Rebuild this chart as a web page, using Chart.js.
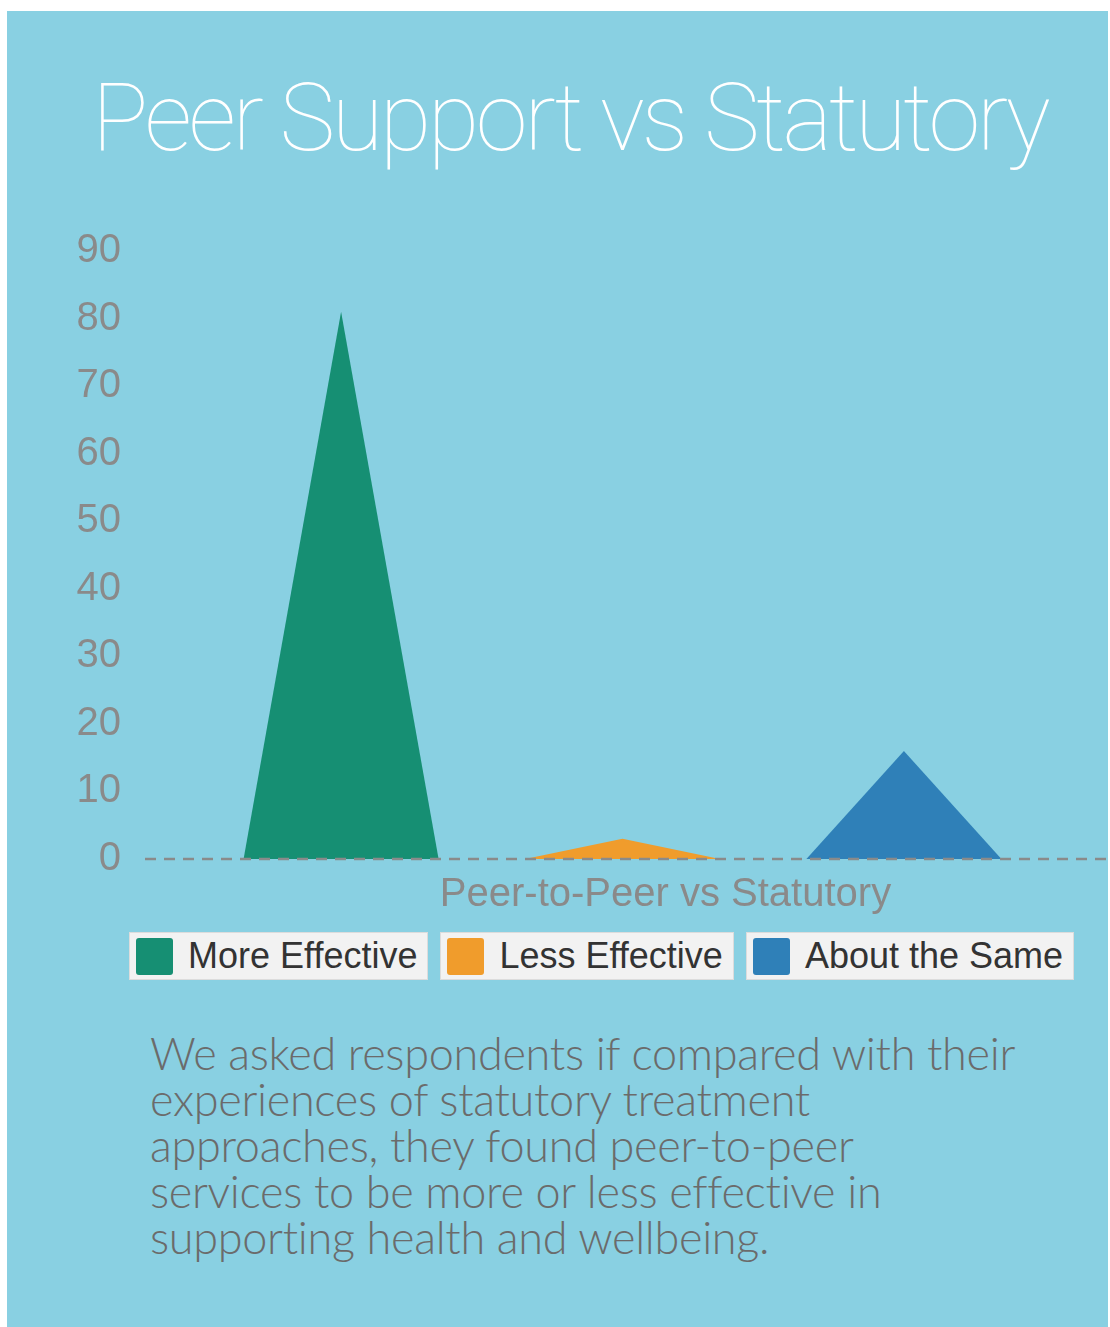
<!DOCTYPE html>
<html>
<head>
<meta charset="utf-8">
<title>Peer Support vs Statutory</title>
<script src="https://cdn.jsdelivr.net/npm/chart.js@4.4.1/dist/chart.umd.min.js"></script>
<style>
  html, body { margin: 0; padding: 0; background: #fff; }
  body { width: 1110px; height: 1327px; position: relative; overflow: hidden; }
  .panel {
    position: absolute; left: 7px; top: 11px; width: 1101px; height: 1316px;
    background: #89d0e2;
  }
  .title {
    position: absolute; left: 92px; top: 71px;
    font-family: Roboto, sans-serif; font-weight: 100; font-size: 94px; line-height: 94px;
    letter-spacing: -3.4px; color: #fff; white-space: nowrap;
  }
  .chart-box { position: absolute; left: 7px; top: 202px; width: 1101px; height: 730px; }
  .legend { position: absolute; left: 129px; top: 932px; display: flex; gap: 12px; }
  .legend-item {
    display: flex; align-items: center; height: 46px; padding: 0 10px 0 6px;
    background: #f2f2f2; border: 1px solid #dcdcdc;
    font-family: "Liberation Sans", Arial, sans-serif; font-size: 36px; color: #333;
  }
  .legend-item .swatch { width: 37px; height: 37px; border-radius: 3px; margin-right: 15px; }
  .desc {
    position: absolute; left: 150px; top: 1030px;
    font-family: Lato, sans-serif; font-weight: 300; font-size: 45px; line-height: 46px;
    letter-spacing: -0.3px; color: #6b6b6b; white-space: nowrap;
  }
</style>
</head>
<body>
<div class="panel"></div>
<div class="title">Peer Support vs Statutory</div>
<div class="chart-box"><canvas id="peer-chart" width="1101" height="730"></canvas></div>
<div class="legend" id="legend"></div>
<div class="desc">We asked respondents if compared with their<br>experiences of statutory treatment<br>approaches, they found peer-to-peer<br>services to be more or less effective in<br>supporting health and wellbeing.</div>

<script>
// data (percent of respondents)
const categories = ['Peer-to-Peer vs Statutory'];
const seriesNames = ['More Effective', 'Less Effective', 'About the Same'];
const moreEffective = [81];
const lessEffective = [3];
const aboutTheSame = [16];
const seriesColors = ['#168f73', '#f09c2c', '#2f80b8'];
const yMax = 90;
const yStep = 10;

const seriesValues = [moreEffective, lessEffective, aboutTheSame];

// bars are drawn as triangles from the element geometry
const trianglePlugin = {
  id: 'triangles',
  beforeDatasetDraw(chart, args) {
    const ctx = chart.ctx;
    const ds = chart.data.datasets[args.index];
    ctx.save();
    ctx.fillStyle = ds.backgroundColor;
    args.meta.data.forEach(el => {
      const half = el.width / 2;
      ctx.beginPath();
      ctx.moveTo(el.x - half, el.base);
      ctx.lineTo(el.x, el.y);
      ctx.lineTo(el.x + half, el.base);
      ctx.closePath();
      ctx.fill();
    });
    ctx.restore();
    return false;
  }
};

// dashed zero line, runs to the right edge of the canvas
const baselinePlugin = {
  id: 'baseline',
  afterDatasetsDraw(chart) {
    const ctx = chart.ctx;
    const y = chart.scales.y.getPixelForValue(0);
    ctx.save();
    ctx.strokeStyle = '#8a8a8a';
    ctx.lineWidth = 2.5;
    ctx.setLineDash([11, 8]);
    ctx.beginPath();
    ctx.moveTo(chart.chartArea.left, y);
    ctx.lineTo(chart.width, y);
    ctx.stroke();
    ctx.restore();
  }
};

const chart = new Chart(document.getElementById('peer-chart'), {
  type: 'bar',
  data: {
    labels: categories,
    datasets: seriesNames.map((name, i) => ({
      label: name,
      data: seriesValues[i],
      backgroundColor: seriesColors[i],
      categoryPercentage: 0.884,
      barPercentage: 0.693
    }))
  },
  options: {
    responsive: false,
    animation: false,
    layout: { padding: { top: 49, right: 8, bottom: 1, left: 0 } },
    scales: {
      x: {
        grid: { display: false, drawTicks: false },
        border: { display: false },
        ticks: {
          color: '#8a8a8a', padding: 12, labelOffset: 43,
          font: { family: 'Liberation Sans', size: 40 }
        }
      },
      y: {
        min: 0, max: yMax,
        afterFit(scale) { scale.width = 138; },
        grid: { display: false, drawTicks: false },
        border: { display: false },
        ticks: {
          stepSize: yStep, color: '#8a8a8a', padding: 24,
          font: { family: 'Liberation Sans', size: 40 }
        }
      }
    },
    plugins: {
      legend: { display: false },
      tooltip: { enabled: false }
    }
  },
  plugins: [trianglePlugin, baselinePlugin]
});

// legend boxes
const legend = document.getElementById('legend');
chart.data.datasets.forEach(ds => {
  const item = document.createElement('div');
  item.className = 'legend-item';
  item.innerHTML = '<span class="swatch" style="background:' + ds.backgroundColor + '"></span>' + ds.label;
  legend.appendChild(item);
});
</script>
</body>
</html>
